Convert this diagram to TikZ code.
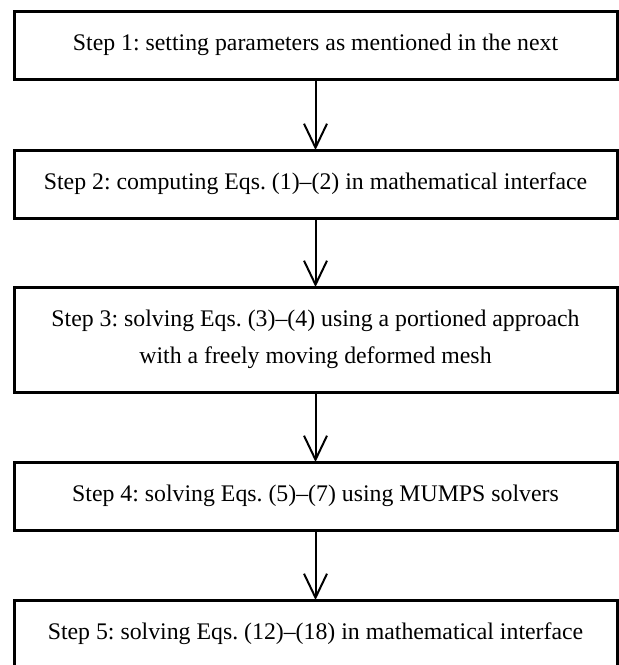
\documentclass[tikz,border=0pt]{standalone}
\usepackage{fontspec}
\setmainfont{Liberation Serif}
\usetikzlibrary{arrows.meta}
\begin{document}
\frenchspacing
\begin{tikzpicture}[x=1pt,y=-1pt,
  stepbox/.style={draw, line width=3pt, rectangle, inner sep=0pt, outer sep=0pt,
    minimum width=603pt, align=center, font=\fontsize{23.8}{37}\selectfont\frenchspacing},
  arr/.style={line width=2pt, -{Straight Barb[length=24pt,width=23pt,line width=2pt]}}]
\useasboundingbox (0,0) rectangle (619,665);
\node[stepbox, minimum height=68pt] (b1) at (315.5,45) {Step 1: setting parameters as mentioned in the next};
\node[stepbox, minimum height=68pt] (b2) at (315.5,184) {Step 2: computing Eqs. (1)–(2) in mathematical interface};
\node[stepbox, minimum height=105pt] (b3) at (315.5,339.5) {Step 3: solving Eqs. (3)–(4) using a portioned approach\\with a freely moving deformed mesh};
\node[stepbox, minimum height=68pt] (b4) at (315.5,496) {Step 4: solving Eqs. (5)–(7) using MUMPS solvers};
\node[stepbox, minimum height=68pt] (b5) at (315.5,634) {Step 5: solving Eqs. (12)–(18) in mathematical interface};
\draw[arr] (b1.south) -- (b2.north);
\draw[arr] (b2.south) -- (b3.north);
\draw[arr] (b3.south) -- (b4.north);
\draw[arr] (b4.south) -- (b5.north);
\end{tikzpicture}
\end{document}
